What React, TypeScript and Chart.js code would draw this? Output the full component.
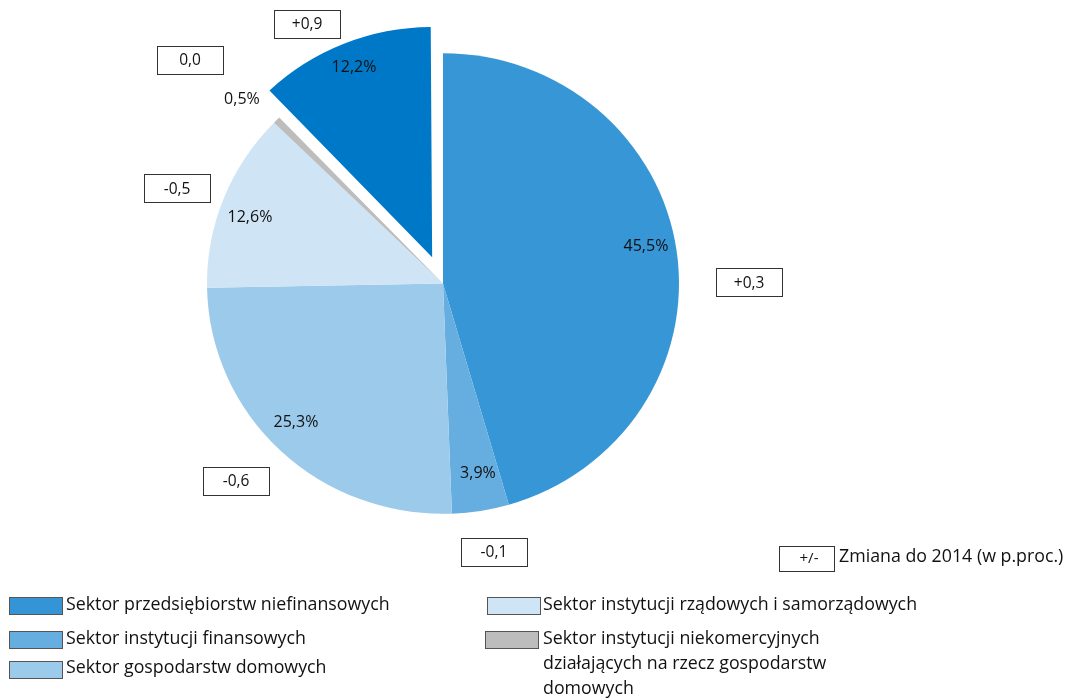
import React, { useEffect, useRef } from "react";
import { Chart, registerables } from "chart.js";

Chart.register(...registerables);

// ---- data ----
const sliceNames = [
  "Sektor przedsiębiorstw niefinansowych",
  "Sektor instytucji finansowych",
  "Sektor gospodarstw domowych",
  "Sektor instytucji rządowych i samorządowych",
  "Sektor instytucji niekomercyjnych działających na rzecz gospodarstw domowych",
  "Pozostałe",
];
const shareValues = [45.5, 3.9, 25.3, 12.6, 0.5, 12.2];
const changeLabels = ["+0,3", "-0,1", "-0,6", "-0,5", "0,0", "+0,9"];
const sliceColors = ["#3796D6", "#67AEE0", "#9CCAEA", "#CFE4F4", "#BDBDBD", "#0078C8"];
// Chart.js 4 draws arcs at offset/4
const sliceOffsets = [0, 0, 0, 0, 0, 116];

const legendLabels = [
  "Sektor przedsiębiorstw niefinansowych",
  "Sektor instytucji finansowych",
  "Sektor gospodarstw domowych",
  "Sektor instytucji rządowych i samorządowych",
  ["Sektor instytucji niekomercyjnych", "działających na rzecz gospodarstw", "domowych"],
];
const legendColors = ["#3594D6", "#67AEE0", "#9CCAEA", "#CFE4F4", "#BDBDBD"];
const changeLegendSymbol = "+/-";
const changeLegendText = "Zmiana do 2014 (w p.proc.)";

// ---- layout (relative to pie radius) ----
const pctLabelPos = [
  [0.86, -0.155],
  [0.148, 0.803],
  [-0.623, 0.587],
  [-0.818, -0.278],
  [-0.852, -0.782],
  [-0.377, -0.917],
];
const changeBoxPos = [
  [1.297, -0.006],
  [0.216, 1.138],
  [-0.877, 0.837],
  [-1.127, -0.403],
  [-1.072, -0.947],
  [-0.576, -1.1],
];
const PIE_Y_SCALE = 0.976;

const FONT = '"Open Sans", "Noto Sans", sans-serif';

const fmtPct = (v: number) => v.toFixed(1).replace(".", ",") + "%";

const squashPlugin = {
  id: "squash",
  afterDatasetsUpdate(chart: any) {
    // keep exploded slices at the same radius as the others
    const meta = chart.getDatasetMeta(0);
    meta.data.forEach((arc: any) => {
      const off = (arc.options && arc.options.offset) || 0;
      if (!off) return;
      const circ = arc.endAngle - arc.startAngle;
      const fix = 1 - Math.sin(Math.min(Math.PI, circ));
      arc.outerRadius = arc.outerRadius - (off / 4) * fix;
    });
  },
  beforeDatasetsDraw(chart: any) {
    const ctx = chart.ctx;
    const arc = chart.getDatasetMeta(0).data[0];
    ctx.save();
    if (!arc) return;
    ctx.translate(arc.x, arc.y);
    ctx.scale(1, PIE_Y_SCALE);
    ctx.translate(-arc.x, -arc.y);
  },
  afterDatasetsDraw(chart: any) {
    chart.ctx.restore();
  },
};

const overlayPlugin = {
  id: "overlay",
  afterDraw(chart: any) {
    const ctx: CanvasRenderingContext2D = chart.ctx;
    const meta = chart.getDatasetMeta(0);
    const first = meta.data[0];
    if (!first) return;
    const R = first.outerRadius;
    ctx.save();
    ctx.textBaseline = "middle";
    ctx.textAlign = "center";
    meta.data.forEach((arc: any, i: number) => {
      const { x, y } = arc.getProps(["x", "y"], true);
      ctx.fillStyle = "#111";
      ctx.font = `16px ${FONT}`;
      ctx.fillText(fmtPct(shareValues[i]), x + pctLabelPos[i][0] * R, y + pctLabelPos[i][1] * R);
      const bx = x + changeBoxPos[i][0] * R;
      const by = y + changeBoxPos[i][1] * R;
      const w = 66, h = 28;
      const rx = Math.round(bx - w / 2) + 0.5;
      const ry = Math.round(by - h / 2) + 0.5;
      ctx.fillStyle = "#fff";
      ctx.fillRect(rx, ry, w, h);
      ctx.strokeStyle = "#333";
      ctx.lineWidth = 1;
      ctx.strokeRect(rx, ry, w, h);
      ctx.fillStyle = "#111";
      ctx.font = `15.5px ${FONT}`;
      ctx.fillText(changeLabels[i], bx, by + 1);
    });

    // change legend
    ctx.strokeStyle = "#333";
    ctx.lineWidth = 1;
    ctx.strokeRect(779.5, 546.5, 55, 25);
    ctx.fillStyle = "#111";
    ctx.font = `15px ${FONT}`;
    ctx.textAlign = "center";
    ctx.fillText(changeLegendSymbol, 809, 559);
    ctx.textAlign = "left";
    ctx.font = `17.8px ${FONT}`;
    ctx.fillText(changeLegendText, 839, 557);

    // category legend
    const items = [
      { sx: 9.5, sy: 597.5, tx: 66, ty: 605 },
      { sx: 9.5, sy: 631.5, tx: 66, ty: 639 },
      { sx: 9.5, sy: 661.5, tx: 66, ty: 668 },
      { sx: 487.5, sy: 597.5, tx: 543, ty: 605 },
      { sx: 485.5, sy: 631.5, tx: 543, ty: 639 },
    ];
    items.forEach((it, i) => {
      ctx.fillStyle = legendColors[i];
      ctx.fillRect(it.sx, it.sy, 53, 17);
      ctx.strokeStyle = "#555";
      ctx.strokeRect(it.sx, it.sy, 53, 17);
      ctx.fillStyle = "#111";
      ctx.font = `17.8px ${FONT}`;
      const lab = legendLabels[i];
      const lines = Array.isArray(lab) ? lab : [lab];
      lines.forEach((ln, j) => ctx.fillText(ln, it.tx, it.ty + j * 25));
    });
    ctx.restore();
  },
};

export default function App() {
  const ref = useRef<HTMLCanvasElement | null>(null);
  useEffect(() => {
    if (!ref.current) return;
    const chart = new Chart(ref.current, {
      type: "pie",
      data: {
        labels: sliceNames,
        datasets: [
          {
            data: shareValues,
            backgroundColor: sliceColors,
            borderWidth: 0,
            offset: sliceOffsets,
            hoverOffset: 0,
          } as any,
        ],
      },
      options: {
        responsive: false,
        animation: false,
        radius: 236,
        layout: { padding: { left: 0, right: 183, top: 0, bottom: 131 } },
        plugins: {
          legend: { display: false },
          tooltip: { enabled: false },
        },
        events: [],
      } as any,
      plugins: [squashPlugin, overlayPlugin],
    });
    return () => chart.destroy();
  }, []);
  return (
    <div style={{ position: "fixed", left: 0, top: 0, width: 1069, height: 698, background: "#fff" }}>
      <canvas ref={ref} width={1069} height={698} style={{ display: "block" }} />
    </div>
  );
}
